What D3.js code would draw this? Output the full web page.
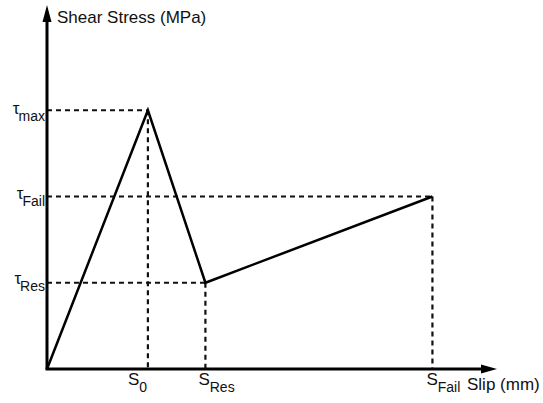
<!DOCTYPE html>
<html>
<head>
<meta charset="utf-8">
<script src="https://cdn.jsdelivr.net/npm/d3@7"></script>
<style>
  body { margin: 0; background: #fff; }
  text { font-family: "Liberation Sans", Arial, sans-serif; fill: #111; }
</style>
</head>
<body>
<svg width="543" height="403"></svg>
<script>
// bond-slip curve, key points (slip, stress)
const slipKeys = ['S0', 'SRes', 'SFail'];
const slipValues = [1, 1.57, 3.82];
const slipSubs = ['0', 'Res', 'Fail'];
const stressKeys = ['max', 'Res', 'Fail'];
const stressValues = [3, 1, 2];
const curveSlip = [0, 1, 1.57, 3.82];
const curveStress = [0, 3, 1, 2];

const svg = d3.select('svg');
const x0 = 47, y0 = 369;

const x = d3.scaleLinear().domain([0, 4.46]).range([x0, 497]);
const y = d3.scaleLinear().domain([0, 4.22]).range([y0, 5]);

const g = svg.append('g');

// dashed guide lines
const guides = curveSlip.slice(1).map((s, i) => ({ s: s, t: curveStress[i + 1] }));
g.selectAll('line.h')
  .data(guides)
  .enter().append('line')
  .attr('x1', x(0)).attr('x2', d => x(d.s))
  .attr('y1', d => y(d.t)).attr('y2', d => y(d.t))
  .attr('stroke', '#111').attr('stroke-width', 2.2).attr('stroke-dasharray', '5,4');
g.selectAll('line.v')
  .data(guides)
  .enter().append('line')
  .attr('x1', d => x(d.s)).attr('x2', d => x(d.s))
  .attr('y1', d => y(d.t)).attr('y2', y(0))
  .attr('stroke', '#111').attr('stroke-width', 2.2).attr('stroke-dasharray', '5,4');

// curve
const line = d3.line().x(d => x(d[0])).y(d => y(d[1]));
g.append('path')
  .attr('d', line(d3.zip(curveSlip, curveStress)))
  .attr('fill', 'none').attr('stroke', '#000').attr('stroke-width', 2.5)
  .attr('stroke-linejoin', 'miter');

// axes with arrows
g.append('line').attr('x1', x0).attr('y1', y0).attr('x2', x0).attr('y2', 18)
  .attr('stroke', '#000').attr('stroke-width', 3);
g.append('path').attr('d', `M${x0 - 4.5},22 L${x0},5 L${x0 + 4.5},22 Z`).attr('fill', '#000');
g.append('line').attr('x1', x0 - 1.5).attr('y1', y0).attr('x2', 485).attr('y2', y0)
  .attr('stroke', '#000').attr('stroke-width', 3);
g.append('path').attr('d', `M481,${y0 - 4.5} L497,${y0} L481,${y0 + 4.5} Z`).attr('fill', '#000');

// axis titles
g.append('text').attr('x', 57).attr('y', 23).attr('font-size', 17).text('Shear Stress (MPa)');
g.append('text').attr('x', 467).attr('y', 390).attr('font-size', 17).text('Slip (mm)');

// stress labels
const tauOffsets = { max: 4, Res: 1, Fail: 3 };
stressKeys.forEach((k, i) => {
  const t = g.append('text')
    .attr('x', 45).attr('y', y(stressValues[i]) + tauOffsets[k])
    .attr('text-anchor', 'end').attr('font-size', 17);
  t.append('tspan').text('τ');
  t.append('tspan').attr('dy', 7).attr('dx', -1).attr('font-size', 14).text(k);
});

// slip labels
const sOffsets = [-20, -7, -6];
slipValues.forEach((v, i) => {
  const t = g.append('text')
    .attr('x', x(v) + sOffsets[i]).attr('y', 385).attr('font-size', 17);
  t.append('tspan').text('S');
  t.append('tspan').attr('dy', 7).attr('font-size', 14).text(slipSubs[i]);
});
</script>
</body>
</html>
